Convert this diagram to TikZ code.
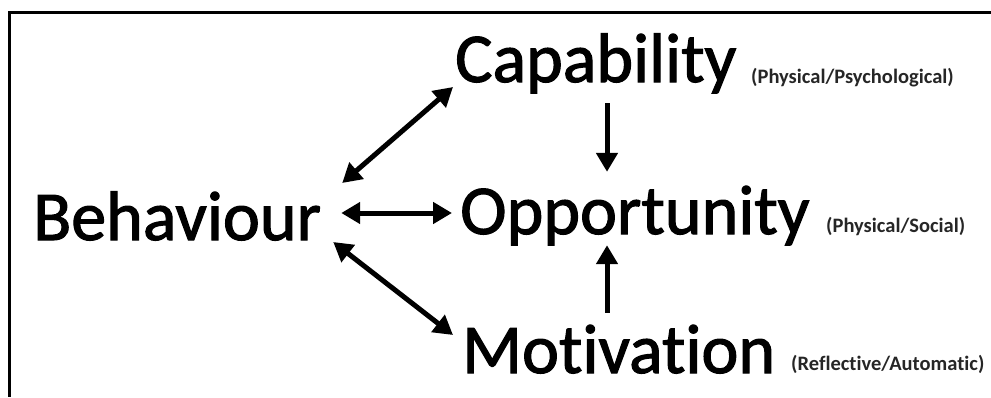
\documentclass[tikz,border=0pt]{standalone}
\usepackage{fontspec}
\setmainfont{Carlito}[Ligatures=NoCommon]
\newfontfamily\wordfont{Carlito}[FakeBold=1.6, Ligatures=NoCommon]
\usetikzlibrary{arrows.meta,positioning}

\begin{document}
\begin{tikzpicture}[
  x=1pt, y=-1pt,
  big/.style={font=\wordfont\fontsize{70}{72}\selectfont, inner sep=0pt, text height=48pt, text depth=16pt, anchor=base west},
  sub/.style={font=\fontsize{20.5}{22}\selectfont\bfseries, inner sep=0pt, anchor=base west, text=black!85},
  arr/.style={{Triangle[length=19pt,width=21pt]}-{Triangle[length=19pt,width=21pt]}, line width=5pt},
  uarr/.style={-{Triangle[length=19pt,width=21pt]}, line width=5pt}
]
\useasboundingbox (0,0) rectangle (991,397);
% frame, only the top and left edges
\draw[line width=3pt, line join=miter] (991,12.5) -- (9,12.5) -- (9,397);

\node[big] (beh) at (33,240) {Behaviour};
\node[big] (cap) at (455,82) {Capability};
\node[big] (opp) at (460,234) {Opportunity};
\node[big] (mot) at (462,373) {Motivation};

\node[sub] (capsub) at (751,83) {(Physical/Psychological)};
\node[sub] (oppsub) at (826,232) {(Physical/Social)};
\node[sub] (motsub) at (791,370) {(Reflective/Automatic)};

\draw[arr] ([shift={(21,-41)}]beh.east) -- ([shift={(-2,21)}]cap.west);
\draw[arr] ([shift={(20,-11)}]beh.east) -- ([shift={(-8,-5)}]opp.west);
\draw[arr] ([shift={(12,18)}]beh.east) -- ([shift={(-9,-22)}]mot.west);
\draw[uarr] ([shift={(152,5)}]cap.south west) -- ([shift={(147,-14)}]opp.north west);
\draw[uarr] ([shift={(145,-12)}]mot.north west) -- ([shift={(147,-5)}]opp.south west);
\end{tikzpicture}
\end{document}
